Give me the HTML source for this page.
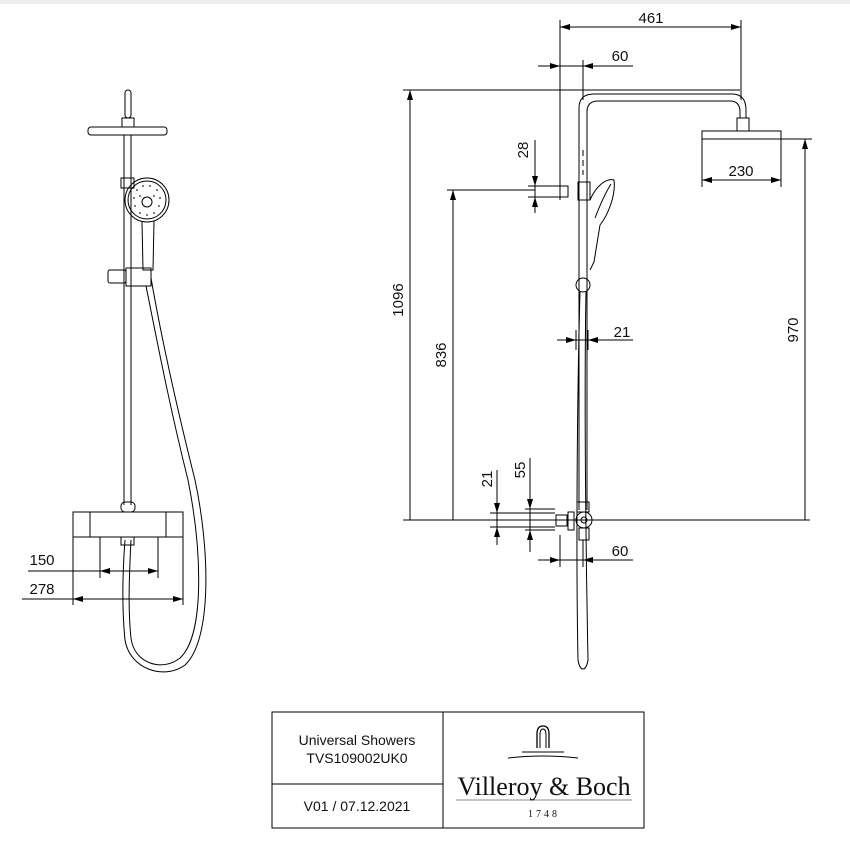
<!DOCTYPE html>
<html><head><meta charset="utf-8"><style>
html,body{margin:0;padding:0;background:#fff}
svg{display:block}
text{font-family:"Liberation Sans",sans-serif;fill:#111}
</style></head><body>
<svg width="850" height="850" viewBox="0 0 850 850" xmlns="http://www.w3.org/2000/svg">
<defs>
<marker id="a" viewBox="0 0 10 6" refX="10" refY="3" markerWidth="10" markerHeight="6" orient="auto-start-reverse" markerUnits="userSpaceOnUse"><path d="M0,0 L10,3 L0,6z" fill="#000"/></marker>
</defs>
<rect x="0" y="0" width="850" height="4" fill="#eee"/>
<g stroke="#000" stroke-width="1" fill="none">
<rect x="125" y="90" width="6" height="28" rx="3"/>
<rect x="122" y="118" width="12" height="9"/>
<rect x="88" y="127" width="79" height="8" rx="3"/>
<line x1="124" y1="135" x2="124" y2="505"/><line x1="131" y1="135" x2="131" y2="505"/>
<rect x="121" y="178" width="13" height="10"/>
<circle cx="147" cy="200" r="22"/><circle cx="147" cy="200" r="19"/>
<circle cx="147" cy="202" r="5"/>
<g fill="#555" stroke="none">
<circle cx="137" cy="190" r="1"/><circle cx="143" cy="186" r="1"/><circle cx="150" cy="186" r="1"/><circle cx="157" cy="190" r="1"/>
<circle cx="134" cy="198" r="1"/><circle cx="160" cy="198" r="1"/><circle cx="135" cy="206" r="1"/><circle cx="159" cy="206" r="1"/>
<circle cx="140" cy="213" r="1"/><circle cx="147" cy="215" r="1"/><circle cx="154" cy="213" r="1"/><circle cx="140" cy="196" r="1"/><circle cx="154" cy="196" r="1"/>
</g>
<path d="M142,221 L143,270 H153 L154,221"/>
<rect x="108" y="270" width="18" height="13" rx="2"/>
<rect x="126" y="268" width="25" height="18"/>
<path d="M151,278 C160,330 175,400 195,480 C210,550 212,640 185,665 C165,680 130,670 125,640 C122,610 122,580 125,540"/>
<path d="M146,286 C155,330 168,400 188,480 C202,550 205,635 180,658 C163,672 134,664 131,638 C128,610 129,580 131,540"/>
<rect x="121" y="502" width="14" height="10" rx="4"/>
<rect x="73" y="512" width="110" height="25"/>
<line x1="90" y1="512" x2="90" y2="537"/><line x1="166" y1="512" x2="166" y2="537"/>
<rect x="121" y="537" width="13" height="8"/>
<line x1="73" y1="537" x2="73" y2="605"/><line x1="183" y1="537" x2="183" y2="605"/>
<line x1="100" y1="537" x2="100" y2="578"/><line x1="158" y1="537" x2="158" y2="578"/>
<line x1="28" y1="571" x2="158" y2="571"/>
<line x1="130" y1="571" x2="100" y2="571" marker-end="url(#a)"/>
<line x1="130" y1="571" x2="158" y2="571" marker-end="url(#a)"/>
<line x1="22" y1="599" x2="183" y2="599"/>
<line x1="128" y1="599" x2="73" y2="599" marker-end="url(#a)"/>
<line x1="128" y1="599" x2="183" y2="599" marker-end="url(#a)"/>

<line x1="560" y1="20" x2="560" y2="200"/><line x1="741" y1="20" x2="741" y2="100"/>
<line x1="560" y1="27" x2="741" y2="27" marker-start="url(#a)" marker-end="url(#a)"/>
<line x1="583" y1="60" x2="583" y2="100"/>
<line x1="538" y1="66" x2="633" y2="66"/>
<line x1="545" y1="66" x2="560" y2="66" marker-end="url(#a)"/>
<line x1="598" y1="66" x2="583" y2="66" marker-end="url(#a)"/>
<line x1="403" y1="90" x2="740" y2="90"/>
<line x1="410" y1="520" x2="410" y2="90" marker-end="url(#a)"/>
<path d="M579,510 V108 Q579,94 594,94 H732 Q746,94 746,110 V118"/>
<path d="M587,510 V112 Q587,101 598,101 H730 Q740,101 740,112 V118"/>
<line x1="583" y1="150" x2="583" y2="175" stroke-dasharray="6,4"/>
<rect x="737" y="118" width="12" height="13"/>
<rect x="702" y="131" width="79" height="8"/>
<line x1="704" y1="139" x2="778" y2="139" stroke-dasharray="1,1"/>
<line x1="702" y1="139" x2="702" y2="187"/><line x1="781" y1="139" x2="781" y2="187"/>
<line x1="702" y1="180" x2="781" y2="180" marker-start="url(#a)" marker-end="url(#a)"/>
<line x1="780" y1="139" x2="812" y2="139"/>
<line x1="805" y1="520" x2="805" y2="139" marker-end="url(#a)"/>
<line x1="447" y1="190" x2="535" y2="190"/>
<line x1="453" y1="520" x2="453" y2="190" marker-end="url(#a)"/>
<line x1="535" y1="140" x2="535" y2="210"/>
<line x1="528" y1="186" x2="560" y2="186"/><line x1="528" y1="197" x2="560" y2="197"/>
<line x1="535" y1="170" x2="535" y2="186" marker-end="url(#a)"/>
<line x1="535" y1="213" x2="535" y2="197" marker-end="url(#a)"/>
<rect x="560" y="186" width="8" height="11"/>
<rect x="578" y="182" width="12" height="18"/>
<path d="M590,200 C596,186 606,178 614,180 C616,195 608,215 600,225 L594,262 L590,270"/>
<path d="M595,218 C600,205 606,192 611,184"/>
<circle cx="583" cy="285" r="7"/>
<path d="M586,292 C584,400 586,560 588,660 C586,672 580,672 578,660 C576,560 577,400 580,292"/>
<line x1="576" y1="330" x2="576" y2="350"/><line x1="588" y1="330" x2="588" y2="350"/>
<line x1="557" y1="340" x2="633" y2="340"/>
<line x1="562" y1="340" x2="576" y2="340" marker-end="url(#a)"/>
<line x1="602" y1="340" x2="588" y2="340" marker-end="url(#a)"/>
<line x1="403" y1="520" x2="810" y2="520"/>
<rect x="577" y="502" width="12" height="10"/>
<circle cx="584" cy="520" r="8"/><circle cx="584" cy="520" r="3"/>
<rect x="579" y="528" width="10" height="12"/>
<rect x="568" y="512" width="6" height="18"/>
<rect x="556" y="515" width="11" height="11"/>
<line x1="490" y1="513" x2="555" y2="513"/><line x1="490" y1="527" x2="555" y2="527"/>
<line x1="525" y1="509" x2="555" y2="509"/><line x1="525" y1="530" x2="555" y2="530"/>
<line x1="497" y1="470" x2="497" y2="545"/>
<line x1="497" y1="500" x2="497" y2="513" marker-end="url(#a)"/>
<line x1="497" y1="540" x2="497" y2="527" marker-end="url(#a)"/>
<line x1="530" y1="458" x2="530" y2="552"/>
<line x1="530" y1="495" x2="530" y2="509" marker-end="url(#a)"/>
<line x1="530" y1="545" x2="530" y2="530" marker-end="url(#a)"/>
<line x1="560" y1="535" x2="560" y2="567"/><line x1="583" y1="540" x2="583" y2="567"/>
<line x1="538" y1="560" x2="633" y2="560"/>
<line x1="545" y1="560" x2="560" y2="560" marker-end="url(#a)"/>
<line x1="598" y1="560" x2="583" y2="560" marker-end="url(#a)"/>
<rect x="272" y="712" width="372" height="116"/>
<line x1="443" y1="712" x2="443" y2="828"/>
<line x1="272" y1="784" x2="443" y2="784"/>
<path d="M537,748 V734 Q537,726 543,726 Q549,726 549,734 V748" stroke-width="1.3"/>
<path d="M540,748 V735 Q540,729 543,729 Q546,729 546,735 V748"/>
<line x1="522" y1="752" x2="564" y2="752"/>
<path d="M508,758 Q543,754 578,758"/>
<line x1="456" y1="800" x2="632" y2="800" stroke="#888"/>
</g>
<g font-size="15">
<text x="651" y="23" text-anchor="middle">461</text>
<text x="620" y="61" text-anchor="middle">60</text>
<text x="741" y="176" text-anchor="middle">230</text>
<text x="622" y="337" text-anchor="middle">21</text>
<text x="620" y="556" text-anchor="middle">60</text>
<text x="42" y="565" text-anchor="middle">150</text>
<text x="42" y="594" text-anchor="middle">278</text>
<text transform="translate(403,300) rotate(-90)" text-anchor="middle">1096</text>
<text transform="translate(446,355) rotate(-90)" text-anchor="middle">836</text>
<text transform="translate(798,330) rotate(-90)" text-anchor="middle">970</text>
<text transform="translate(528,150) rotate(-90)" text-anchor="middle">28</text>
<text transform="translate(492,479) rotate(-90)" text-anchor="middle">21</text>
<text transform="translate(525,470) rotate(-90)" text-anchor="middle">55</text>
</g>
<g font-size="14" text-anchor="middle">
<text x="357" y="745">Universal Showers</text>
<text x="357" y="763">TVS109002UK0</text>
<text x="357" y="811">V01 / 07.12.2021</text>
</g>
<text x="544" y="795" text-anchor="middle" style="font-family:'Liberation Serif',serif;font-size:26px">Villeroy &amp; Boch</text>
<text x="544" y="817" text-anchor="middle" style="font-family:'Liberation Serif',serif;font-size:10px;letter-spacing:3px">1748</text>
</svg>
</body></html>
